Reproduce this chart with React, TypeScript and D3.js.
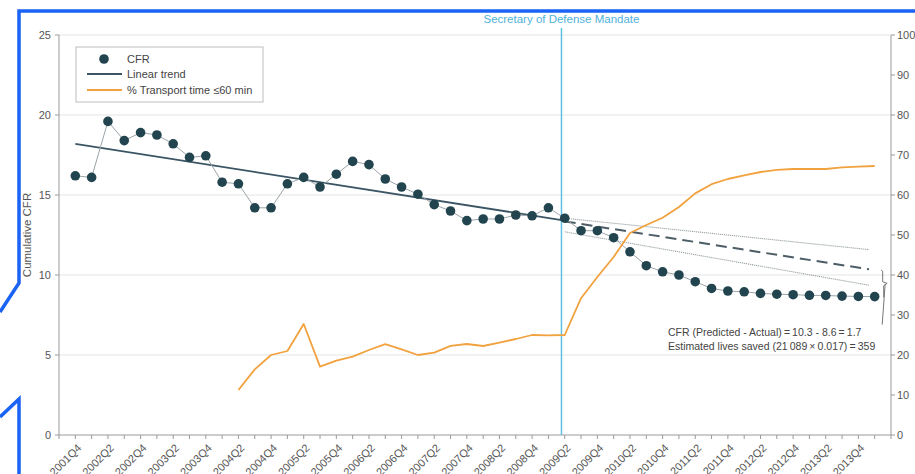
import React from "react";
import * as d3 from "d3";

const quarters: string[] = [
  "2001Q4",
  "2002Q1", "2002Q2", "2002Q3", "2002Q4",
  "2003Q1", "2003Q2", "2003Q3", "2003Q4",
  "2004Q1", "2004Q2", "2004Q3", "2004Q4",
  "2005Q1", "2005Q2", "2005Q3", "2005Q4",
  "2006Q1", "2006Q2", "2006Q3", "2006Q4",
  "2007Q1", "2007Q2", "2007Q3", "2007Q4",
  "2008Q1", "2008Q2", "2008Q3", "2008Q4",
  "2009Q1", "2009Q2", "2009Q3", "2009Q4",
  "2010Q1", "2010Q2", "2010Q3", "2010Q4",
  "2011Q1", "2011Q2", "2011Q3", "2011Q4",
  "2012Q1", "2012Q2", "2012Q3", "2012Q4",
  "2013Q1", "2013Q2", "2013Q3", "2013Q4",
  "2014Q1",
];

// Cumulative CFR per quarter (left axis)
const cfr: number[] = [
  16.2,
  16.1, 19.6, 18.4, 18.9,
  18.75, 18.2, 17.35, 17.45,
  15.8, 15.7, 14.2, 14.2,
  15.7, 16.1, 15.5, 16.3,
  17.1, 16.9, 16.0, 15.5,
  15.05, 14.4, 14.0, 13.4,
  13.5, 13.5, 13.75, 13.7,
  14.2, 13.55, 12.77, 12.77,
  12.33, 11.45, 10.58, 10.2,
  10.0, 9.58, 9.16, 9.0,
  8.95, 8.85, 8.8, 8.77,
  8.73, 8.72, 8.68, 8.66,
  8.65,
];

// % transport time <= 60 min (right axis), starting 2004Q2
const transportStart = "2004Q2";
const transport: number[] = [
  11.25, 16.4, 20, 21, 27.75,
  17.1, 18.6, 19.6, 21.25, 22.7,
  21.4, 20.0, 20.6, 22.3, 22.75,
  22.25, 23.1, 24.0, 25.0, 24.9,
  25.0, 34.2, 39.5, 44.5, 50.5,
  52.5, 54.3, 57.0, 60.4, 62.7,
  64.0, 64.9, 65.75, 66.3, 66.5,
  66.5, 66.5, 66.9, 67.1, 67.25,
];

const trendFit = [
  { q: "2001Q4", v: 18.2 },
  { q: "2009Q2", v: 13.4 },
];
const projected = [
  { q: "2009Q2", v: 13.35 },
  { q: "2014Q1", v: 10.3 },
];
const upperBound = [
  { q: "2009Q2", v: 13.55 },
  { q: "2014Q1", v: 11.55 },
];
const lowerBound = [
  { q: "2009Q2", v: 12.7 },
  { q: "2014Q1", v: 9.3 },
];

const mandateQuarter = "2009Q2";
const predictedCFR = 10.3;
const actualCFR = 8.6;

const leftTicks = [0, 5, 10, 15, 20, 25];
const rightTicks = [0, 10, 20, 30, 40, 50, 60, 70, 80, 90, 100];
const gridTicks = [5, 10, 15, 20, 25];

const legendItems = ["CFR", "Linear trend", "% Transport time \u226460 min"];
const annotationLines = [
  "CFR (Predicted - Actual)\u2009=\u200910.3 - 8.6\u2009=\u20091.7",
  "Estimated lives saved (21\u2009089\u2009\u00d7\u20090.017)\u2009=\u2009359",
];
const mandateLabel = "Secretary of Defense Mandate";
const yLabel = "Cumulative CFR";

const W = 915;
const H = 474;
const L = 59;
const R = 891;
const T = 35;
const B = 435;

const FONT = "'Liberation Sans', Arial, 'DejaVu Sans', sans-serif";
const DOT = "#22444f";
const ORANGE = "#f1a23e";
const CYAN = "#5fbfe0";
const BLUE = "#1a63f5";

export default function App() {
  const x = d3.scaleLinear().domain([-1, quarters.length]).range([L, R]);
  const yL = d3.scaleLinear().domain([0, 25]).range([B, T]);
  const yR = d3.scaleLinear().domain([0, 100]).range([B, T]);
  const qi = (q: string) => quarters.indexOf(q);

  const cfrPts = cfr.map((v, i) => [x(i), yL(v)] as [number, number]);
  const line = d3.line<[number, number]>().x((d) => d[0]).y((d) => d[1]);

  const tStart = qi(transportStart);
  const transportLine = d3
    .line<number>()
    .x((_, i) => x(tStart + i))
    .y((d) => yR(d))(transport);

  // segment from two anchor points, trimmed at end (fraction of a quarter)
  const seg = (pts: { q: string; v: number }[], trim = 0) => {
    const i0 = qi(pts[0].q);
    const i1 = qi(pts[1].q);
    const iEnd = i1 - trim;
    const vEnd = pts[0].v + ((pts[1].v - pts[0].v) * (iEnd - i0)) / (i1 - i0);
    return line([
      [x(i0), yL(pts[0].v)],
      [x(iEnd), yL(vEnd)],
    ]);
  };

  const mandateX = x(qi(mandateQuarter) - 0.2);

  // bracket
  const bx = x(quarters.length - 1) + 8;
  const yP = yL(predictedCFR);
  const yA = yL(actualCFR);
  const yM = (yP + yA) / 2;
  const bracket = `M${bx - 1.5},${yP} L${bx},${yP + 1} L${bx},${yM - 2} L${bx + 4.5},${yM - 0.5} L${bx + 1},${yM + 2} L${bx + 1},${yA}`;
  const tail = `M${bx + 2.5},${yM} L${bx - 0.5},${yL(6.9)}`;

  return (
    <div style={{ position: "absolute", left: 0, top: 0, width: W, height: H, background: "#fff" }}>
      <svg width={W} height={H} style={{ display: "block", fontFamily: FONT }}>
        <rect x={0} y={0} width={W} height={H} fill="#fff" />
        {/* grid */}
        {gridTicks.map((t) => (
          <line key={"g" + t} x1={L} x2={R} y1={yL(t)} y2={yL(t)} stroke="#e4e4e4" strokeWidth={1} />
        ))}
        {/* axes */}
        <line x1={L} x2={L} y1={T} y2={B} stroke="#9a9a9a" strokeWidth={1} />
        <line x1={R} x2={R} y1={T} y2={B} stroke="#9a9a9a" strokeWidth={1} />
        <line x1={L} x2={R} y1={B} y2={B} stroke="#9a9a9a" strokeWidth={1} />
        {leftTicks.map((t) => (
          <g key={"l" + t}>
            <line x1={L - 4} x2={L} y1={yL(t)} y2={yL(t)} stroke="#9a9a9a" />
            <text x={L - 8} y={yL(t)} dy="0.35em" textAnchor="end" fontSize={11} fill="#555">
              {t}
            </text>
          </g>
        ))}
        {rightTicks.map((t) => (
          <g key={"r" + t}>
            <line x1={R} x2={R + 4} y1={yR(t)} y2={yR(t)} stroke="#9a9a9a" />
            <text x={R + 6} y={yR(t)} dy="0.35em" textAnchor="start" fontSize={11} fill="#555">
              {t}
            </text>
          </g>
        ))}
        {d3.range(-1, quarters.length + 1).map((i) => (
          <line key={"xt" + i} x1={x(i)} x2={x(i)} y1={B} y2={B + 4} stroke="#9a9a9a" />
        ))}
        {quarters.map((q, i) =>
          i % 2 === 0 ? (
            <text
              key={"xl" + q}
              transform={`translate(${x(i) + 4},${B + 11}) rotate(-45)`}
              dy="0.35em"
              textAnchor="end"
              fontSize={11}
              fill="#555"
            >
              {q}
            </text>
          ) : null
        )}
        <text
          transform={`translate(27,${(T + B) / 2}) rotate(-90)`}
          dy="0.35em"
          textAnchor="middle"
          fontSize={11.5}
          fill="#555"
        >
          {yLabel}
        </text>

        {/* mandate line */}
        <line x1={mandateX} x2={mandateX} y1={28} y2={B} stroke={CYAN} strokeWidth={1.5} />
        <text x={mandateX} y={23} textAnchor="middle" fontSize={11.5} fill="#4fb2da">
          {mandateLabel}
        </text>

        {/* projection lines */}
        <path d={seg(upperBound, 0.35) || ""} fill="none" stroke="#9aa3a8" strokeWidth={1.1} strokeDasharray="1.2,0.8" />
        <path d={seg(lowerBound, 0.35) || ""} fill="none" stroke="#9aa3a8" strokeWidth={1.1} strokeDasharray="1.2,0.8" />
        <path d={seg(projected, 0.35) || ""} fill="none" stroke="#4d5d66" strokeWidth={2} strokeDasharray="11,6" />
        <path d={seg(trendFit) || ""} fill="none" stroke="#3b5565" strokeWidth={1.8} />

        {/* CFR line + dots */}
        <path d={line(cfrPts) || ""} fill="none" stroke="#9aa4a8" strokeWidth={1} />
        {cfrPts.map((p, i) => (
          <circle key={"c" + i} cx={p[0]} cy={p[1]} r={4.8} fill={DOT} />
        ))}

        {/* transport line */}
        <path d={transportLine || ""} fill="none" stroke={ORANGE} strokeWidth={1.8} strokeLinejoin="round" />

        {/* bracket + annotation */}
        <path d={bracket} fill="none" stroke="#777" strokeWidth={1} />
        <path d={tail} fill="none" stroke="#777" strokeWidth={1} />
        {annotationLines.map((t, i) => (
          <text key={"a" + i} x={668} y={335.5 + i * 14} fontSize={10.5} fill="#444">
            {t}
          </text>
        ))}

        {/* legend */}
        <rect x={76} y={47} width={187} height={55} fill="#fff" stroke="#bdbdbd" strokeWidth={1} />
        <circle cx={104} cy={59} r={4.8} fill={DOT} />
        <line x1={87} x2={122} y1={74} y2={74} stroke="#3b5565" strokeWidth={1.8} />
        <line x1={87} x2={122} y1={90} y2={90} stroke={ORANGE} strokeWidth={1.8} />
        {legendItems.map((t, i) => (
          <text key={"lg" + i} x={127} y={59 + i * 15.5} dy="0.35em" fontSize={11} fill="#444">
            {t}
          </text>
        ))}

        {/* blue frame overlay */}
        <path d={`M${W},11 L19,11 L19,283 L0,312`} fill="none" stroke={BLUE} strokeWidth={3.5} />
        <path d={`M19,${H} L19,399 L0,417`} fill="none" stroke={BLUE} strokeWidth={3.5} />
      </svg>
    </div>
  );
}
